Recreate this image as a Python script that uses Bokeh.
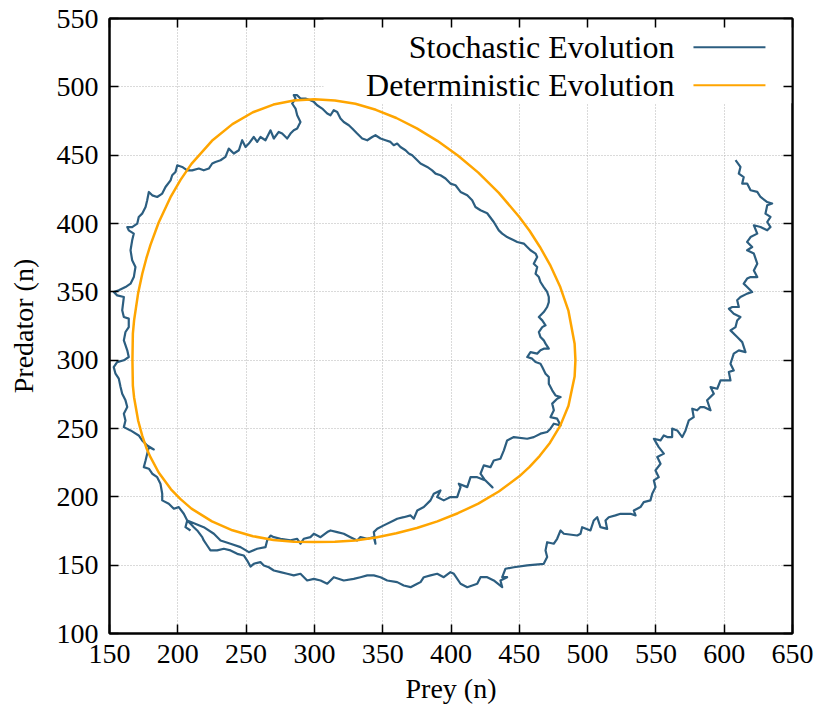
from bokeh.plotting import figure
from bokeh.models import Range1d, LinearAxis, FixedTicker, Label, Arrow, BoxAnnotation
from bokeh.embed import file_html
from bokeh.resources import INLINE

# ---------------- data ----------------
x_ticks = [150, 200, 250, 300, 350, 400, 450, 500, 550, 600, 650]
y_ticks = [100, 150, 200, 250, 300, 350, 400, 450, 500, 550]

series_names = ["Stochastic Evolution", "Deterministic Evolution"]

# stochastic trajectory (prey, predator)
stoch_x = [
    608.3, 611.9, 610.7, 614.3, 613.2, 616.8, 619.3, 624.2, 626.6, 631.5, 635.1, 631.5, 630.2, 633.9, 631.5,
    633.9, 631.5, 626.6, 621.7, 624.2, 619.3, 616.8, 620.5, 616.8, 621.7, 624.2, 621.7, 624.2, 619.3, 616.8,
    614.3, 616.8, 620.5, 616.8, 611.9, 609.5, 610.7, 605.9, 603.4, 607.0, 611.9, 609.5, 608.3, 604.6, 609.5,
    613.2, 615.6, 610.7, 607.0, 604.6, 607.0, 603.4, 604.6, 597.3, 594.9, 590.0, 592.4, 587.5, 590.0, 585.1,
    582.6, 580.2, 576.6, 577.7, 574.1, 571.7, 569.3, 565.6, 561.9, 561.9, 558.3, 555.8, 553.4, 548.5, 552.1,
    555.8, 551.0, 553.4, 549.7, 552.1, 548.5, 549.7, 547.3, 546.0, 541.1, 538.7, 536.3, 533.8, 535.1, 531.4,
    524.1, 520.4, 515.5, 513.1, 514.3, 509.4, 507.0, 504.5, 502.1, 496.0, 494.8, 492.4, 482.6, 480.2, 477.7,
    475.3, 470.4, 469.2, 470.4, 467.9, 455.8, 446.0, 439.9, 437.5, 441.1, 436.2, 437.5, 431.3, 426.5, 421.6,
    419.2, 411.9, 407.0, 402.1, 399.6, 394.7, 389.9, 385.0, 380.1, 377.7, 375.3, 370.4, 365.4, 360.6, 353.3,
    348.4, 343.5, 338.7, 333.7, 328.8, 321.5, 314.2, 309.4, 304.5, 299.6, 294.7, 289.8, 284.9, 280.1, 275.2,
    270.3, 266.6, 263.0, 260.5, 255.6, 253.2, 250.8, 248.3, 243.5, 238.6, 233.7, 228.8, 223.9, 221.5, 219.0,
    217.9, 214.2, 211.7, 209.3, 206.9,
    219.0, 226.4, 231.3, 238.6, 245.9, 252.0, 258.1, 264.2, 265.4, 267.9, 270.3, 275.2, 282.5, 287.4, 289.8,
    292.2, 297.1, 299.6, 304.5, 309.4, 311.8, 316.7, 321.5, 326.4, 331.3, 333.7, 338.7, 343.5, 344.7, 343.5,
    346.0, 350.8, 358.1, 360.6, 365.4, 370.4, 372.8, 375.3, 380.1, 385.0, 387.4, 392.3, 389.9, 394.7, 399.6,
    404.5, 407.0, 405.7, 411.9, 414.3, 419.2, 425.3, 430.4, 424.5, 421.6, 424.0, 428.9, 431.3, 436.2, 438.7,
    441.1, 446.0, 455.8, 460.6, 465.5, 470.4, 472.8, 475.3, 480.2, 477.7, 472.8, 475.3, 474.1, 477.7, 480.2,
    476.5, 474.1, 471.6, 471.6, 469.2, 466.8, 465.5, 461.9, 459.4, 455.8, 458.2, 463.1, 465.5, 467.9, 471.6,
    469.2, 467.9, 465.5, 464.3, 466.8, 469.2, 466.8, 464.3, 467.9, 470.4, 471.6, 471.6, 470.4, 467.9, 465.5,
    464.3, 461.9, 463.1, 460.6, 463.1, 461.9, 458.2, 455.8, 453.3, 448.5, 446.0, 441.1, 437.5, 435.0, 431.3,
    426.5, 421.6, 417.9, 415.5, 411.9, 407.0, 403.3, 399.6, 396.0, 392.3, 388.7, 386.2, 382.6, 377.7, 374.0,
    371.6, 369.1, 366.7, 363.0, 360.6, 358.1, 355.7, 352.1, 348.4, 344.7, 342.3, 338.7, 335.0, 331.3, 327.7,
    325.2, 321.5, 319.1, 316.7, 314.2, 311.8, 309.4, 305.7, 302.0, 299.6, 297.1, 293.5, 289.8, 287.4, 284.9,
    286.2, 283.7, 286.2, 287.4, 289.8, 287.4, 284.9, 282.5, 280.1, 276.4, 273.9, 270.3, 267.9, 264.2, 260.5,
    258.1, 255.6, 252.0, 249.6, 247.1, 244.7, 241.0, 237.3, 234.9, 231.3, 227.6, 225.2, 222.7, 219.0, 215.4,
    210.5, 206.9, 203.2, 199.6, 198.3, 195.9, 194.7, 191.0, 188.6, 184.9, 181.3, 178.8, 177.6, 176.4, 173.9,
    171.4, 170.3, 166.6, 163.0, 164.1, 167.8, 166.6, 165.4, 166.6, 169.0, 167.8, 165.4, 161.7, 156.8, 153.1,
    155.6, 160.5, 159.3, 160.5, 164.1, 164.1, 161.7, 160.5, 163.0, 164.1, 160.5, 155.6, 153.1, 154.4, 156.8,
    158.1, 159.3, 161.7, 163.0, 160.5, 161.7, 160.5, 165.4, 171.4, 173.9, 177.6, 182.4, 178.8, 177.6, 176.4,
    175.1, 178.8, 181.3, 184.9, 187.3, 188.6, 188.6, 193.4, 197.1, 200.7, 204.4, 206.9, 205.6, 209.3,
]
stoch_y = [
    446.3, 441.4, 436.5, 434.0, 429.2, 429.2, 424.3, 423.1, 419.4, 415.7, 414.6, 413.3, 407.2, 404.8, 401.1,
    397.4, 395.0, 397.4, 398.7, 392.6, 390.1, 386.5, 382.8, 380.4, 378.0, 370.6, 365.7, 360.8, 360.8, 359.7,
    356.0, 353.5, 349.9, 348.7, 346.2, 343.8, 338.9, 338.9, 337.7, 334.0, 331.6, 329.1, 324.2, 321.8, 316.9,
    313.2, 305.9, 307.2, 304.8, 297.4, 292.5, 291.3, 285.2, 285.2, 279.1, 280.3, 275.5, 270.6, 263.3, 265.7,
    265.7, 263.3, 264.5, 258.3, 255.9, 248.6, 243.7, 248.6, 249.9, 243.7, 243.7, 244.9, 241.3, 242.5, 236.4,
    231.6, 229.1, 224.2, 219.3, 214.4, 212.0, 207.1, 202.3, 197.4, 196.1, 192.5, 191.3, 190.0, 186.4, 187.6,
    187.6, 186.4, 185.1, 182.7, 176.6, 177.8, 185.1, 182.7, 175.4, 177.8, 173.0, 171.7, 173.0, 175.4, 169.3,
    165.7, 166.8, 160.8, 155.9, 151.0, 149.8, 148.5, 147.4, 141.2, 141.2, 138.8, 133.9, 138.8, 141.2, 141.2,
    136.4, 133.9, 136.4, 143.7, 144.9, 141.2, 143.7, 142.5, 141.2, 137.6, 136.4, 133.9, 135.1, 137.6, 138.8,
    141.2, 142.5, 142.5, 141.2, 140.0, 138.8, 141.2, 136.4, 138.8, 140.0, 138.8, 143.7, 142.5, 143.7, 144.9,
    146.1, 148.5, 149.8, 152.2, 151.0, 149.0, 153.4, 157.1, 158.3, 160.8, 162.0, 160.8, 160.8, 164.4, 168.1,
    170.5, 175.4, 177.8, 180.3, 182.7,
    177.8, 173.0, 168.1, 165.7, 163.2, 159.5, 162.0, 163.2, 168.1, 171.7, 170.5, 169.3, 168.1, 169.3, 165.7,
    169.3, 170.5, 173.0, 170.5, 174.2, 175.4, 174.2, 173.0, 170.5, 168.1, 170.5, 169.3, 170.5, 165.7, 174.2,
    176.6, 179.1, 182.7, 184.0, 185.1, 186.4, 184.0, 190.0, 192.5, 197.4, 202.3, 204.7, 199.8, 197.4, 199.8,
    199.8, 207.1, 209.6, 207.1, 214.4, 214.4, 212.0, 206.9, 212.7, 216.9, 223.0, 221.7, 226.6, 227.9, 234.0,
    241.3, 243.7, 242.5, 243.7, 246.2, 247.4, 249.9, 253.5, 252.3, 257.2, 258.3, 263.3, 268.2, 271.8, 273.0,
    274.2, 277.9, 282.8, 287.6, 290.1, 295.0, 297.4, 298.6, 301.1, 302.3, 305.9, 304.8, 307.2, 308.4, 308.4,
    312.1, 314.5, 316.9, 320.6, 324.2, 325.5, 329.1, 331.6, 335.2, 338.9, 342.5, 346.2, 349.9, 353.5, 357.2,
    360.8, 363.3, 368.2, 370.6, 375.5, 378.0, 380.4, 382.8, 385.3, 386.5, 387.7, 390.1, 392.6, 395.0, 401.1,
    407.5, 409.7, 412.1, 417.0, 420.6, 423.1, 428.0, 429.2, 432.9, 435.3, 436.5, 438.9, 441.4, 443.9, 447.5,
    449.9, 451.2, 453.6, 456.0, 458.5, 457.3, 459.7, 460.9, 462.2, 464.6, 463.3, 460.9, 462.2, 465.8, 469.5,
    471.9, 474.3, 476.8, 481.6, 482.9, 479.2, 480.5, 484.1, 486.5, 489.0, 490.2, 491.4, 491.4, 493.9, 493.9,
    491.4, 487.8, 484.1, 479.2, 474.3, 469.5, 468.2, 465.8, 462.2, 465.8, 467.0, 462.2, 468.2, 460.9, 463.3,
    459.7, 463.3, 458.5, 456.0, 460.9, 453.6, 451.2, 454.8, 448.7, 446.3, 445.0, 443.9, 440.2, 438.9, 440.2,
    438.9, 438.9, 441.4, 442.6, 437.7, 435.3, 431.6, 426.7, 421.9, 419.4, 420.6, 423.1, 417.0, 412.1, 407.2,
    404.8, 399.9, 397.4, 397.4, 395.0, 392.6, 387.7, 380.4, 373.1, 368.2, 360.8, 356.0, 353.5, 351.1, 349.9,
    347.4, 346.2, 336.5, 331.6, 330.4, 324.2, 320.6, 314.5, 307.2, 302.3, 299.9, 298.6, 294.9, 290.1, 286.5,
    280.3, 275.5, 270.6, 265.7, 260.8, 255.9, 251.0, 248.6, 244.9, 241.3, 237.6, 234.7, 236.4, 231.6, 226.6,
    221.7, 220.6, 216.9, 214.4, 209.6, 202.3, 197.4, 195.0, 191.3, 192.5, 187.6, 182.7, 177.8, 175.4,
]

# deterministic closed orbit (prey, predator)
orbit_x = [
    166.8, 167.1, 168.0, 171.0, 174.0, 177.0, 180.0, 186.0, 195.0, 202.0, 210.0, 225.0, 240.0, 255.0, 270.0,
    285.0, 300.0, 315.0, 330.0, 345.0, 360.0, 375.0, 390.0, 405.0, 420.0, 435.0, 450.0, 457.5, 465.0, 472.5,
    480.0, 486.0, 490.5, 491.1, 490.5, 486.0, 480.0, 472.5, 465.0, 457.5, 450.0, 435.0, 420.0, 405.0, 390.0,
    375.0, 360.0, 345.0, 330.0, 315.0, 300.0, 285.0, 270.0, 255.0, 240.0, 225.0, 210.0, 202.0, 195.0, 186.0,
    180.0, 177.0, 174.0, 171.0, 168.0, 167.1, 166.8,
]
orbit_y = [
    300.0, 281.4, 272.7, 255.7, 244.6, 235.8, 229.0, 217.8, 205.5, 198.3, 191.4, 182.0, 175.5, 171.2, 168.4,
    167.2, 167.0, 167.2, 168.1, 170.3, 173.3, 177.2, 182.0, 188.0, 195.0, 203.9, 215.0, 221.9, 230.0, 239.6,
    252.1, 266.7, 288.0, 300.0, 312.0, 336.0, 353.5, 369.8, 383.0, 394.7, 404.8, 422.4, 437.2, 449.8, 460.5,
    469.6, 477.2, 483.2, 487.6, 490.0, 491.0, 490.0, 487.0, 481.4, 472.7, 460.5, 443.6, 431.9, 419.9, 400.7,
    384.4, 374.6, 363.2, 349.2, 329.1, 319.4, 300.0,
]

# ---------------- style ----------------
BLUE = "#2c5e80"
ORANGE = "#ffa500"
FONT = "Liberation Serif"

p = figure(width=817, height=717,
           x_range=Range1d(150, 650), y_range=Range1d(100, 550),
           output_backend="svg", toolbar_location=None,
           min_border_left=109, min_border_right=25,
           min_border_top=18, min_border_bottom=84)

p.background_fill_color = "white"
p.border_fill_color = "white"
p.outline_line_color = "black"
p.outline_line_width = 2

for g, t in ((p.xgrid, x_ticks), (p.ygrid, y_ticks)):
    g.ticker = FixedTicker(ticks=t)
    g.grid_line_color = "#b4b4b4"
    g.grid_line_width = 1
    g.grid_line_dash = "1 2"

def style_axis(ax, ticks, show_labels):
    ax.ticker = FixedTicker(ticks=ticks)
    ax.axis_line_color = "black"
    ax.axis_line_width = 2
    ax.major_tick_in = 9
    ax.major_tick_out = 0
    ax.major_tick_line_width = 1.5
    ax.major_tick_line_color = "black"
    ax.minor_tick_in = 0
    ax.minor_tick_out = 0
    if show_labels:
        ax.major_label_text_font = FONT
        ax.major_label_text_font_size = "28px"
        ax.major_label_text_color = "black"
        ax.major_label_standoff = 11
        ax.axis_label_text_font = FONT
        ax.axis_label_text_font_size = "28px"
        ax.axis_label_text_font_style = "normal"
        ax.axis_label_text_color = "black"
    else:
        ax.major_label_overrides = {t: "" for t in ticks}
        ax.major_label_standoff = 0

xa = p.below[0]
ya = p.left[0]
style_axis(xa, x_ticks, True)
style_axis(ya, y_ticks, True)
xa.axis_label = "Prey (n)"
ya.axis_label = "Predator (n)"
xa.axis_label_standoff = 7
ya.axis_label_standoff = 15

top_ax = LinearAxis()
style_axis(top_ax, x_ticks, False)
p.add_layout(top_ax, "above")
right_ax = LinearAxis()
style_axis(right_ax, y_ticks, False)
p.add_layout(right_ax, "right")

# data lines
p.line(stoch_x, stoch_y, line_color=BLUE, line_width=2.2, line_join="round")
p.line(orbit_x, orbit_y, line_color=ORANGE, line_width=2.5, line_join="round")

# key (text right-aligned, sample line to its right, white background)
p.add_layout(BoxAnnotation(left=306.7, right=650, bottom=488, top=550,
                           fill_color="white", fill_alpha=1.0, line_color=None,
                           level="underlay"))
key_rows_y = [529.0, 501.2]
key_colors = [BLUE, ORANGE]
for name, ry, col in zip(series_names, key_rows_y, key_colors):
    p.add_layout(Label(x=563.6, y=ry, text=name, text_align="right",
                       text_baseline="middle", text_font=FONT,
                       text_font_size="32px", text_color="black"))
    p.add_layout(Arrow(start=None, end=None, x_start=577.5, y_start=ry,
                       x_end=630.2, y_end=ry, line_color=col, line_width=2))

open("out.html", "w").write(file_html(p, INLINE))
